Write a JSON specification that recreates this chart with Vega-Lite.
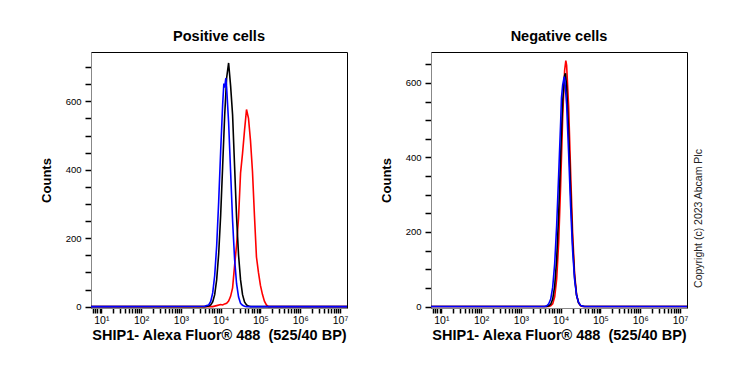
{
  "$schema": "https://vega.github.io/schema/vega-lite/v6.json",
  "autosize": {"type": "pad"},
  "padding": {"left": 39, "top": 28, "right": 5, "bottom": 5},
  "background": "white",
  "bounds": "flush",
  "spacing": 84,
  "config": {
    "font": "Liberation Sans",
    "view": {"stroke": "black", "strokeWidth": 1},
    "title": {"font": "Liberation Sans", "fontSize": 14.5, "fontWeight": "bold", "color": "black", "offset": 8}
  },
  "datasets": {
    "pos": [
      {"fl": 5.5, "n": 0, "s": "A"}, {"fl": 6310, "n": 0, "s": "A"}, {"fl": 7943, "n": 3, "s": "A"}, {"fl": 10000, "n": 6, "s": "A"}, {"fl": 11220, "n": 5, "s": "A"}, {"fl": 12589, "n": 8, "s": "A"}, {"fl": 14125, "n": 10, "s": "A"}, {"fl": 15849, "n": 16, "s": "A"}, {"fl": 17783, "n": 30, "s": "A"}, {"fl": 19953, "n": 55, "s": "A"}, {"fl": 22387, "n": 120, "s": "A"}, {"fl": 25119, "n": 180, "s": "A"}, {"fl": 28184, "n": 260, "s": "A"}, {"fl": 31623, "n": 390, "s": "A"}, {"fl": 35481, "n": 448, "s": "A"}, {"fl": 39811, "n": 515, "s": "A"}, {"fl": 44668, "n": 576, "s": "A"}, {"fl": 50119, "n": 550, "s": "A"}, {"fl": 56234, "n": 485, "s": "A"}, {"fl": 63096, "n": 395, "s": "A"}, {"fl": 70795, "n": 265, "s": "A"}, {"fl": 79433, "n": 145, "s": "A"}, {"fl": 89125, "n": 100, "s": "A"}, {"fl": 100000, "n": 62, "s": "A"}, {"fl": 112202, "n": 36, "s": "A"}, {"fl": 125893, "n": 16, "s": "A"}, {"fl": 141254, "n": 5, "s": "A"}, {"fl": 158489, "n": 0, "s": "A"}, {"fl": 15000000, "n": 0, "s": "A"},
      {"fl": 5.5, "n": 0, "s": "B"}, {"fl": 3981, "n": 0, "s": "B"}, {"fl": 5012, "n": 2, "s": "B"}, {"fl": 5623, "n": 5, "s": "B"}, {"fl": 6310, "n": 14, "s": "B"}, {"fl": 7079, "n": 35, "s": "B"}, {"fl": 7943, "n": 79, "s": "B"}, {"fl": 8913, "n": 154, "s": "B"}, {"fl": 10000, "n": 267, "s": "B"}, {"fl": 11220, "n": 410, "s": "B"}, {"fl": 12589, "n": 556, "s": "B"}, {"fl": 14125, "n": 668, "s": "B"}, {"fl": 15849, "n": 712, "s": "B"}, {"fl": 17783, "n": 645, "s": "B"}, {"fl": 19953, "n": 560, "s": "B"}, {"fl": 22387, "n": 410, "s": "B"}, {"fl": 25119, "n": 262, "s": "B"}, {"fl": 28184, "n": 150, "s": "B"}, {"fl": 31623, "n": 78, "s": "B"}, {"fl": 35481, "n": 35, "s": "B"}, {"fl": 39811, "n": 14, "s": "B"}, {"fl": 44668, "n": 5, "s": "B"}, {"fl": 50119, "n": 2, "s": "B"}, {"fl": 56234, "n": 0, "s": "B"}, {"fl": 15000000, "n": 0, "s": "B"},
      {"fl": 5.5, "n": 0, "s": "C"}, {"fl": 3981, "n": 1, "s": "C"}, {"fl": 4467, "n": 3, "s": "C"}, {"fl": 5012, "n": 5, "s": "C"}, {"fl": 5623, "n": 15, "s": "C"}, {"fl": 6310, "n": 40, "s": "C"}, {"fl": 7079, "n": 91, "s": "C"}, {"fl": 7943, "n": 178, "s": "C"}, {"fl": 8913, "n": 306, "s": "C"}, {"fl": 10000, "n": 454, "s": "C"}, {"fl": 11220, "n": 590, "s": "C"}, {"fl": 12023, "n": 652, "s": "C"}, {"fl": 12589, "n": 640, "s": "C"}, {"fl": 13490, "n": 668, "s": "C"}, {"fl": 14125, "n": 640, "s": "C"}, {"fl": 15849, "n": 538, "s": "C"}, {"fl": 17783, "n": 394, "s": "C"}, {"fl": 19953, "n": 251, "s": "C"}, {"fl": 22387, "n": 139, "s": "C"}, {"fl": 25119, "n": 67, "s": "C"}, {"fl": 28184, "n": 28, "s": "C"}, {"fl": 31623, "n": 10, "s": "C"}, {"fl": 35481, "n": 4, "s": "C"}, {"fl": 39811, "n": 1, "s": "C"}, {"fl": 44668, "n": 0, "s": "C"}, {"fl": 15000000, "n": 0, "s": "C"}
    ],
    "neg": [
      {"fl": 5.5, "n": 0, "s": "A"}, {"fl": 5012, "n": 0, "s": "A"}, {"fl": 5623, "n": 2, "s": "A"}, {"fl": 6310, "n": 7, "s": "A"}, {"fl": 7079, "n": 26, "s": "A"}, {"fl": 7943, "n": 74, "s": "A"}, {"fl": 8913, "n": 172, "s": "A"}, {"fl": 10000, "n": 327, "s": "A"}, {"fl": 11220, "n": 505, "s": "A"}, {"fl": 12589, "n": 634, "s": "A"}, {"fl": 13490, "n": 660, "s": "A"}, {"fl": 14125, "n": 647, "s": "A"}, {"fl": 15849, "n": 538, "s": "A"}, {"fl": 17783, "n": 363, "s": "A"}, {"fl": 19953, "n": 200, "s": "A"}, {"fl": 22387, "n": 89, "s": "A"}, {"fl": 25119, "n": 32, "s": "A"}, {"fl": 28184, "n": 10, "s": "A"}, {"fl": 31623, "n": 2, "s": "A"}, {"fl": 35481, "n": 0, "s": "A"}, {"fl": 15000000, "n": 0, "s": "A"},
      {"fl": 5.5, "n": 0, "s": "B"}, {"fl": 4467, "n": 0, "s": "B"}, {"fl": 5012, "n": 2, "s": "B"}, {"fl": 5623, "n": 6, "s": "B"}, {"fl": 6310, "n": 20, "s": "B"}, {"fl": 7079, "n": 55, "s": "B"}, {"fl": 7943, "n": 128, "s": "B"}, {"fl": 8913, "n": 249, "s": "B"}, {"fl": 10000, "n": 405, "s": "B"}, {"fl": 11220, "n": 550, "s": "B"}, {"fl": 12589, "n": 620, "s": "B"}, {"fl": 13183, "n": 626, "s": "B"}, {"fl": 14125, "n": 591, "s": "B"}, {"fl": 15849, "n": 468, "s": "B"}, {"fl": 17783, "n": 309, "s": "B"}, {"fl": 19953, "n": 171, "s": "B"}, {"fl": 22387, "n": 79, "s": "B"}, {"fl": 25119, "n": 30, "s": "B"}, {"fl": 28184, "n": 10, "s": "B"}, {"fl": 31623, "n": 3, "s": "B"}, {"fl": 35481, "n": 1, "s": "B"}, {"fl": 39811, "n": 0, "s": "B"}, {"fl": 15000000, "n": 0, "s": "B"},
      {"fl": 5.5, "n": 0, "s": "C"}, {"fl": 3981, "n": 0, "s": "C"}, {"fl": 4467, "n": 2, "s": "C"}, {"fl": 5012, "n": 7, "s": "C"}, {"fl": 5623, "n": 20, "s": "C"}, {"fl": 6310, "n": 52, "s": "C"}, {"fl": 7079, "n": 115, "s": "C"}, {"fl": 7943, "n": 218, "s": "C"}, {"fl": 8913, "n": 354, "s": "C"}, {"fl": 10000, "n": 495, "s": "C"}, {"fl": 10471, "n": 560, "s": "C"}, {"fl": 11220, "n": 594, "s": "C"}, {"fl": 12303, "n": 617, "s": "C"}, {"fl": 12589, "n": 612, "s": "C"}, {"fl": 14125, "n": 542, "s": "C"}, {"fl": 15849, "n": 412, "s": "C"}, {"fl": 17783, "n": 269, "s": "C"}, {"fl": 19953, "n": 151, "s": "C"}, {"fl": 22387, "n": 73, "s": "C"}, {"fl": 25119, "n": 30, "s": "C"}, {"fl": 28184, "n": 11, "s": "C"}, {"fl": 31623, "n": 3, "s": "C"}, {"fl": 35481, "n": 1, "s": "C"}, {"fl": 39811, "n": 0, "s": "C"}, {"fl": 15000000, "n": 0, "s": "C"}
    ]
  },
  "hconcat": [
    {
      "title": {"text": "Positive cells"},
      "width": 256,
      "height": 256,
      "data": {"name": "pos"},
      "mark": {"type": "line", "strokeWidth": 1.6},
      "encoding": {
        "x": {
          "field": "fl", "type": "quantitative",
          "scale": {"type": "log", "domain": [5.5, 15000000], "nice": false},
          "axis": {
            "values": [6,7,8,9,10,20,30,40,50,60,70,80,90,100,200,300,400,500,600,700,800,900,1000,2000,3000,4000,5000,6000,7000,8000,9000,10000,20000,30000,40000,50000,60000,70000,80000,90000,100000,200000,300000,400000,500000,600000,700000,800000,900000,1000000,2000000,3000000,4000000,5000000,6000000,7000000,8000000,9000000,10000000],
            "labelExpr": "abs(log(datum.value)/LN10 - round(log(datum.value)/LN10)) < 0.001 ? '10' + ['⁰','¹','²','³','⁴','⁵','⁶','⁷'][round(log(datum.value)/LN10)] : ''",
            "labelOverlap": false,
            "grid": false, "tickColor": "black", "tickSize": 5, "tickWidth": 1.5,
            "labelFontSize": 10.5, "labelColor": "black",
            "title": "SHIP1- Alexa Fluor® 488\u00a0 (525/40 BP)",
            "titleColor": "black", "titleFontSize": 14.5, "titleFontWeight": "bold", "titlePadding": 3
          }
        },
        "y": {
          "field": "n", "type": "quantitative",
          "scale": {"domain": [-4, 744], "nice": false, "zero": false},
          "axis": {
            "values": [0,50,100,150,200,250,300,350,400,450,500,550,600,650,700],
            "labelExpr": "datum.value % 200 === 0 ? datum.label : ''",
            "labelOverlap": false,
            "grid": false, "tickColor": "black", "tickSize": 6, "tickWidth": 1.5,
            "labelFontSize": 9.5, "labelColor": "black", "labelPadding": 4,
            "title": "Counts",
            "titleColor": "black", "titleFontSize": 13, "titleFontWeight": "bold", "titlePadding": 12
          }
        },
        "color": {"field": "s", "type": "nominal", "scale": {"domain": ["A", "B", "C"], "range": ["#ff0000", "#000000", "#0000ff"]}, "legend": null}
      }
    },
    {
      "title": {"text": "Negative cells"},
      "width": 256,
      "height": 256,
      "data": {"name": "neg"},
      "layer": [
        {
          "mark": {"type": "line", "strokeWidth": 1.6},
          "encoding": {
            "x": {
              "field": "fl", "type": "quantitative",
              "scale": {"type": "log", "domain": [5.5, 15000000], "nice": false},
              "axis": {
                "values": [6,7,8,9,10,20,30,40,50,60,70,80,90,100,200,300,400,500,600,700,800,900,1000,2000,3000,4000,5000,6000,7000,8000,9000,10000,20000,30000,40000,50000,60000,70000,80000,90000,100000,200000,300000,400000,500000,600000,700000,800000,900000,1000000,2000000,3000000,4000000,5000000,6000000,7000000,8000000,9000000,10000000],
                "labelExpr": "abs(log(datum.value)/LN10 - round(log(datum.value)/LN10)) < 0.001 ? '10' + ['⁰','¹','²','³','⁴','⁵','⁶','⁷'][round(log(datum.value)/LN10)] : ''",
                "labelOverlap": false,
                "grid": false, "tickColor": "black", "tickSize": 5, "tickWidth": 1.5,
                "labelFontSize": 10.5, "labelColor": "black",
                "title": "SHIP1- Alexa Fluor® 488\u00a0 (525/40 BP)",
                "titleColor": "black", "titleFontSize": 14.5, "titleFontWeight": "bold", "titlePadding": 3
              }
            },
            "y": {
              "field": "n", "type": "quantitative",
              "scale": {"domain": [-4, 683], "nice": false, "zero": false},
              "axis": {
                "values": [0,50,100,150,200,250,300,350,400,450,500,550,600,650],
                "labelExpr": "datum.value % 200 === 0 ? datum.label : ''",
                "labelOverlap": false,
                "grid": false, "tickColor": "black", "tickSize": 6, "tickWidth": 1.5,
                "labelFontSize": 9.5, "labelColor": "black", "labelPadding": 4,
                "title": "Counts",
                "titleColor": "black", "titleFontSize": 13, "titleFontWeight": "bold", "titlePadding": 12
              }
            },
            "color": {"field": "s", "type": "nominal", "scale": {"domain": ["A", "B", "C"], "range": ["#ff0000", "#000000", "#0000ff"]}, "legend": null}
          }
        },
        {
          "mark": {"type": "rule", "opacity": 0},
          "encoding": {
            "y": {
              "datum": 0, "type": "quantitative",
              "scale": {"domain": [-4, 683], "nice": false, "zero": false},
              "axis": {
                "orient": "right", "labels": false, "ticks": false, "domain": false, "grid": false,
                "title": "Copyright (c) 2023 Abcam Plc",
                "titleFontSize": 10.5, "titleFontWeight": "normal", "titleColor": "#222222",
                "titleAngle": 270, "titleBaseline": "top", "titlePadding": 6, "titleY": 166
              }
            }
          }
        }
      ],
      "resolve": {"scale": {"y": "independent"}}
    }
  ]
}
